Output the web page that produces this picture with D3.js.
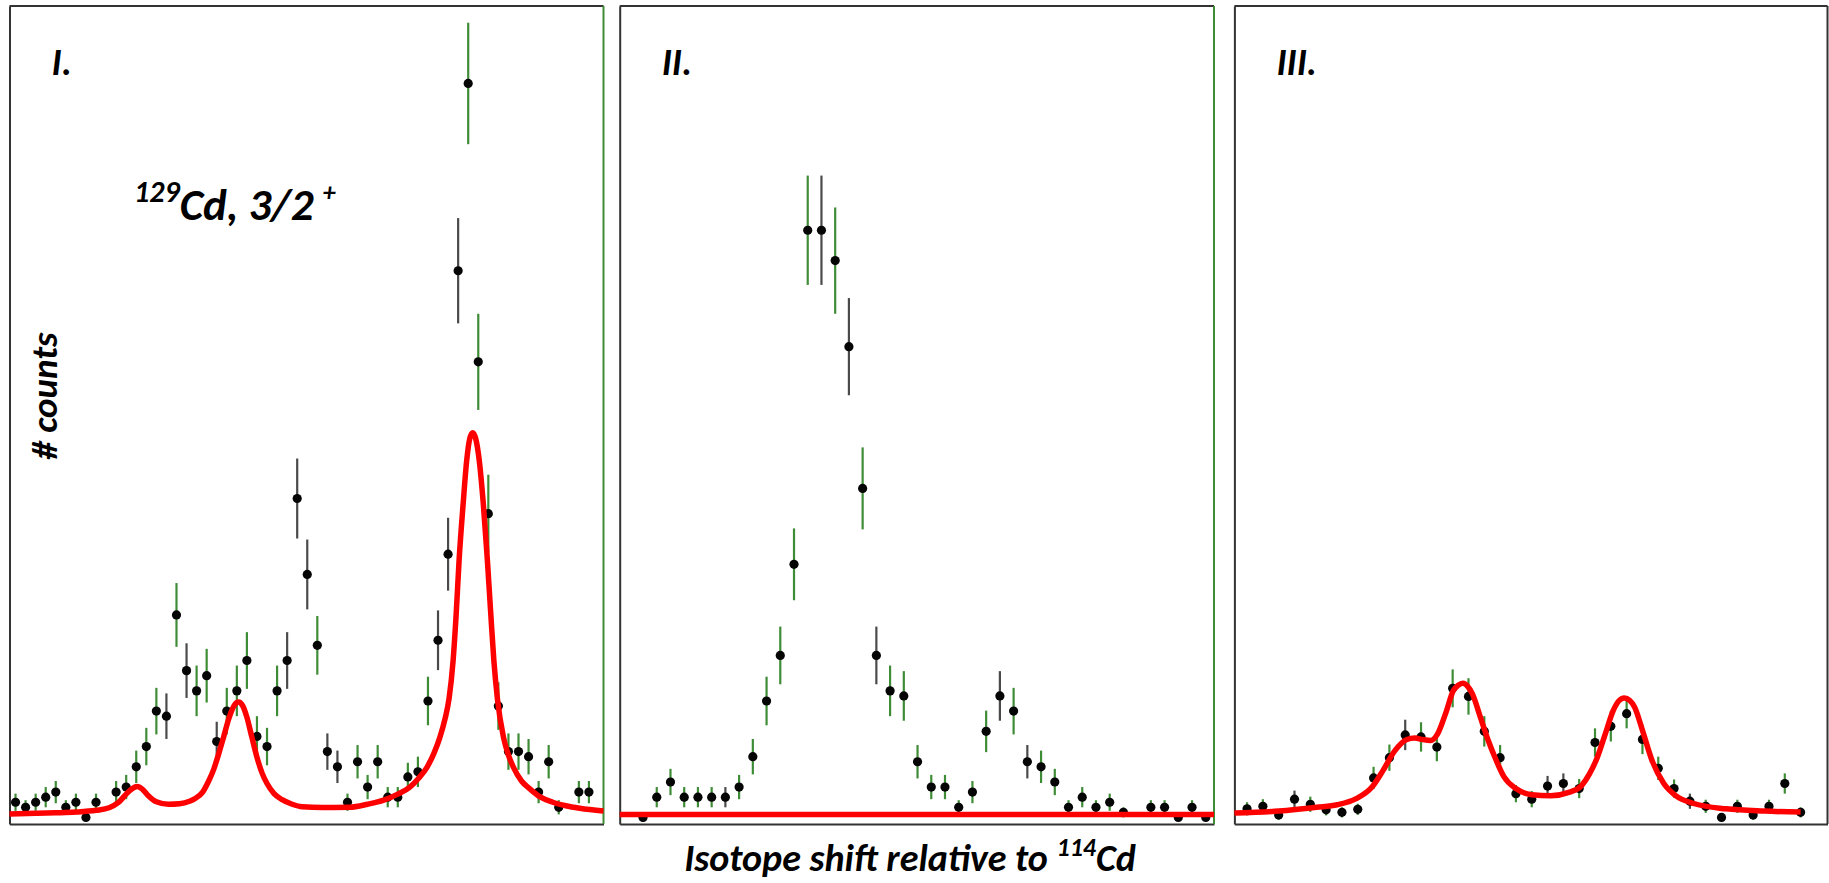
<!DOCTYPE html>
<html lang="en">
<head>
<meta charset="UTF-8">
<title>129Cd isotope shift spectra</title>
<style>
    body {
        margin: 0;
        background: #ffffff;
        overflow: hidden;
    }
    svg { display: block; }
    .lbl {
        font-family: Carlito, Lato, 'Open Sans', sans-serif;
        font-weight: bold;
        font-style: italic;
        fill: #000;
    }
</style>
<script src="https://d3js.org/d3.v7.min.js"></script>
</head>
<body>
<svg id="chart" width="1829" height="883"></svg>
<script>
    // counts per channel (null = no point)
    const countsI = [3, 2, 3, 4, 5, 2, 3, 0, 3, null, 5, 6, 10, 14, 21, 20, 40, 29, 25, 28,
        15, 21, 25, 31, 16, 14, 25, 31, 63, 48, 34, 13, 10, 3, 11, 6, 11, 4, 4, 8,
        9, 23, 35, 52, 108, 145, 90, 60, 22, 13, 13, 12, 5, 11, 2, null, 5, 5];
    const errI = [1.7, 1.4, 1.7, 2.0, 2.2, 1.4, 1.7, 0.8, 1.7, null, 2.2, 2.4, 3.2, 3.7, 4.6, 4.5, 6.3, 5.4, 5.0, 5.3,
        3.9, 4.6, 5.0, 5.6, 4.0, 3.7, 5.0, 5.6, 7.9, 6.9, 5.8, 3.6, 3.2, 1.7, 3.3, 2.4, 3.3, 2.0, 2.0, 2.8,
        3.0, 4.8, 5.9, 7.2, 10.4, 12.0, 9.5, 7.7, 4.7, 3.6, 3.6, 3.5, 2.2, 3.3, 1.4, null, 2.2, 2.2];

    const countsII = [0, 4, 7, 4, 4, 4, 4, 6, 12, 23, 32, 50, 116, 116, 110, 93, 65, 32, 25, 24,
        11, 6, 6, 2, 5, 17, 24, 21, 11, 10, 7, 2, 4, 2, 3, 1, null, 2, 2, 0, 2, 0];
    const errII = [0.8, 2.0, 2.6, 2.0, 2.0, 2.0, 2.0, 2.4, 3.5, 4.8, 5.7, 7.1, 10.8, 10.8, 10.5, 9.6, 8.1, 5.7, 5.0, 4.9,
        3.3, 2.4, 2.4, 1.4, 2.2, 4.1, 4.9, 4.6, 3.3, 3.2, 2.6, 1.4, 2.0, 1.4, 1.7, 1.0, null, 1.4, 1.4, 0.8, 1.4, 0.8];

    const countsIII = [1.7, 2.2, 0.5, 3.6, 2.6, 1.5, 1.0, 1.6, 7.8, 11.8, 16.3, 15.9, 13.9, 25.5, 23.9, 17.0, 11.8, 4.7,
        3.6, 6.2, 6.7, 5.7, 14.8, 18.0, 20.5, 15.4, 9.7, 5.7, 3.2, 2.2, 0, 2.2, 0.5, 2.2, 6.7, 1.0];
    const errIII = [1.3, 1.4, 1.0, 1.7, 1.5, 1.1, 1.0, 1.1, 2.2, 2.6, 3.0, 2.9, 2.8, 3.75, 3.6, 3.0, 2.5, 1.7,
        1.6, 2.0, 2.0, 1.9, 2.8, 3.0, 2.9, 2.9, 2.3, 1.8, 1.5, 1.3, 0.8, 1.3, 1.0, 1.3, 2.0, 1.0];

    // channels whose error bar is drawn dark instead of green
    const darkI = [15, 17, 20, 27, 28, 29, 31, 32, 42, 43, 44];
    const darkII = [6, 13, 15, 17, 26, 28];
    const darkIII = [3, 10, 19, 20, 28];

    // fitted curves as [channel, counts]
    const fitI = [[-0.6, 0.7], [2, 0.8], [4, 0.9], [6, 1.05], [8, 1.4], [9.3, 1.9], [10.2, 2.9], [11.0, 4.6],
        [11.6, 5.7], [12.1, 6.1], [12.6, 5.6], [13.2, 4.3], [14.0, 3.1], [15.2, 2.6], [16.3, 2.7], [17.3, 3.2],
        [17.9, 3.8], [18.6, 5.0], [19.2, 7.2], [19.7, 9.5], [20.2, 12.6], [20.7, 16.0], [21.2, 19.5], [21.7, 22.0],
        [22.15, 22.8], [22.6, 22.0], [23.0, 19.8], [23.5, 15.8], [24.0, 11.9], [24.5, 8.8], [25.0, 6.7], [25.7, 4.7],
        [26.5, 3.5], [27.5, 2.6], [28.5, 2.1], [30.5, 1.95], [33.2, 2.0], [35, 2.6], [36.6, 3.4], [38, 4.6],
        [39.2, 6.0], [40.1, 7.8], [40.9, 9.9], [41.6, 12.7], [42.2, 15.9], [42.7, 19.5], [43.1, 23.5], [43.5, 31],
        [43.8, 40], [44.1, 51], [44.5, 62], [44.85, 70.5], [45.15, 74.8], [45.45, 76], [45.75, 74.8], [46.1, 70.5],
        [46.5, 62], [46.9, 51], [47.25, 40], [47.55, 31], [47.9, 23.5], [48.5, 15.9], [49.0, 12.3], [49.5, 9.9],
        [50.3, 7.2], [51.1, 5.7], [52.2, 4.0], [53.4, 3.0], [54.7, 2.3], [56.1, 1.8], [58.45, 1.25]];
    const fitII = [[-1.7, 0.6], [41.6, 0.6]];
    const fitIII = [[-0.8, 0.85], [2.0, 1.25], [4.4, 2.0], [5.7, 2.5], [6.9, 3.7], [7.9, 6.0], [8.6, 9.3],
        [9.35, 13.2], [10.1, 15.4], [10.6, 15.7], [11.1, 15.4], [11.6, 15.2], [12.05, 16.5], [12.55, 20.5],
        [13.05, 25.1], [13.35, 26.1], [13.65, 26.5], [13.95, 25.9], [14.25, 24.4], [14.75, 19.8], [15.25, 15.2],
        [15.75, 11.3], [16.25, 8.0], [17.0, 5.7], [18.0, 4.5], [19.2, 4.3], [20.4, 5.0], [21.15, 6.3], [21.65, 8.6],
        [22.15, 11.9], [22.65, 16.5], [23.15, 21.1], [23.5, 23.0], [23.85, 23.6], [24.2, 23.1], [24.5, 21.8],
        [25.0, 17.2], [25.6, 11.3], [26.35, 6.7], [27.1, 4.3], [28.3, 2.7], [30.3, 1.7], [32.7, 1.25], [35.0, 1.05]];

    const panelNames = ["I.", "II.", "III."];

    const svg = d3.select("#chart");
    const green = "#3f8c37";
    const frame = "#333";

    // shared counts axis
    const y = d3.scaleLinear().domain([-1.3, 160.3]).range([824, 6]);

    const panels = [
        {counts: countsI, err: errI, dark: darkI, fit: fitI,
            x: d3.scaleLinear().domain([-0.6, 58.45]).range([9.5, 603.5]), right: green},
        {counts: countsII, err: errII, dark: darkII, fit: fitII,
            x: d3.scaleLinear().domain([-1.7, 41.6]).range([619.7, 1214]), right: green},
        {counts: countsIII, err: errIII, dark: darkIII, fit: fitIII,
            x: d3.scaleLinear().domain([-0.8, 36.7]).range([1234.4, 1827.5]), right: frame}
    ];

    const line = d3.line().curve(d3.curveMonotoneX);

    panels.forEach((p, k) => {
        const g = svg.append("g");
        const [x0, x1] = p.x.range();
        const [yb, yt] = y.range();

        // frame: bottom / left from axes without ticks, top / right as plain lines
        g.append("g")
            .attr("transform", `translate(0,${yb})`)
            .call(d3.axisBottom(p.x).tickValues([]).tickSizeOuter(0))
            .call(a => a.select(".domain").attr("stroke", frame).attr("stroke-width", 2));
        g.append("g")
            .attr("transform", `translate(${x0},0)`)
            .call(d3.axisLeft(y).tickValues([]).tickSizeOuter(0))
            .call(a => a.select(".domain").attr("stroke", frame).attr("stroke-width", 2));
        g.append("line")
            .attr("x1", x0).attr("x2", x1).attr("y1", yt).attr("y2", yt)
            .attr("stroke", frame).attr("stroke-width", 2);
        g.append("line")
            .attr("x1", x1).attr("x2", x1).attr("y1", yt).attr("y2", yb)
            .attr("stroke", p.right).attr("stroke-width", 2);

        const pts = p.counts
            .map((c, i) => ({i, c, e: p.err[i], dark: p.dark.includes(i)}))
            .filter(d => d.c !== null);

        // error bars
        g.append("g")
            .selectAll("line")
            .data(pts)
            .enter().append("line")
            .attr("x1", d => p.x(d.i))
            .attr("x2", d => p.x(d.i))
            .attr("y1", d => y(d.c - d.e))
            .attr("y2", d => y(d.c + d.e))
            .attr("stroke", d => d.dark ? "#4a4a4a" : green)
            .attr("stroke-width", 2.2);

        // data points
        g.append("g")
            .selectAll("circle")
            .data(pts)
            .enter().append("circle")
            .attr("cx", d => p.x(d.i))
            .attr("cy", d => y(d.c))
            .attr("r", 4.6)
            .attr("fill", "#050505");

        // fit
        g.append("path")
            .datum(p.fit.map(d => [p.x(d[0]), y(d[1])]))
            .attr("d", line)
            .attr("fill", "none")
            .attr("stroke", "#ff0000")
            .attr("stroke-width", 5.5)
            .attr("stroke-linejoin", "round");

        // panel label
        g.append("text")
            .attr("class", "lbl")
            .attr("x", x0 + 42)
            .attr("y", 75)
            .style("font-size", "38px")
            .text(panelNames[k]);
    });

    // isotope label in panel I
    const iso = svg.append("text")
        .attr("class", "lbl")
        .attr("x", 134)
        .attr("y", 220)
        .style("font-size", "45px");
    iso.append("tspan").attr("dy", -18).style("font-size", "30px").text("129");
    iso.append("tspan").attr("dy", 18).text("Cd, 3/2");
    iso.append("tspan").attr("dy", -19).attr("dx", 9).style("font-size", "26px").text("+");

    // y axis title
    svg.append("text")
        .attr("class", "lbl")
        .attr("transform", "translate(57,396) rotate(-90)")
        .attr("text-anchor", "middle")
        .style("font-size", "37px")
        .text("# counts");

    // x axis title
    const xt = svg.append("text")
        .attr("class", "lbl")
        .attr("x", 910)
        .attr("y", 871)
        .attr("text-anchor", "middle")
        .style("font-size", "38px");
    xt.append("tspan").text("Isotope shift relative to ");
    xt.append("tspan").attr("dy", -15).style("font-size", "26px").text("114");
    xt.append("tspan").attr("dy", 15).text("Cd");
</script>
</body>
</html>
